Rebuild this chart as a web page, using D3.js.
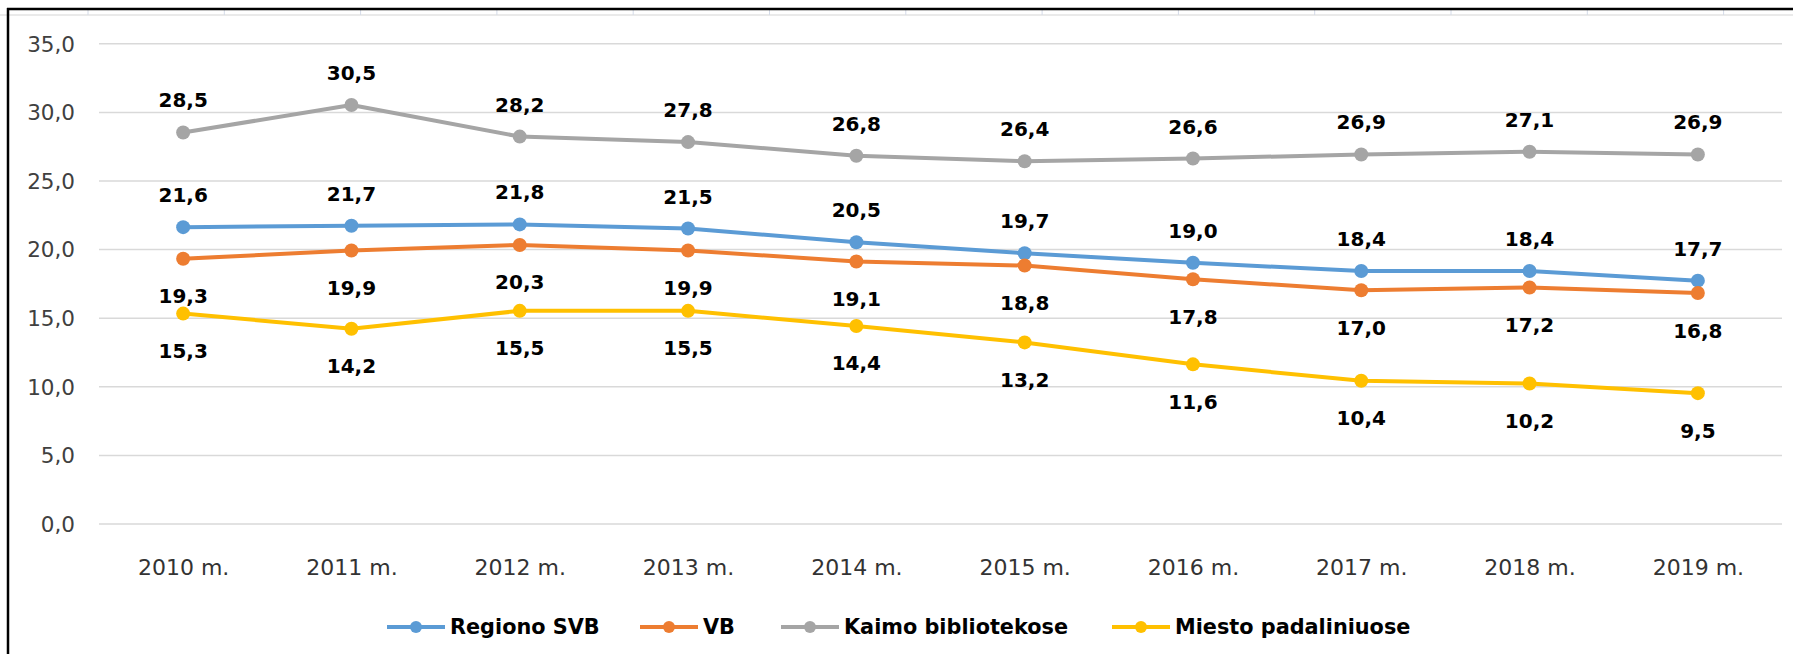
<!DOCTYPE html>
<html>
<head>
<meta charset="utf-8">
<script src="https://cdn.jsdelivr.net/npm/d3@7"></script>
<style>
  html, body { margin: 0; padding: 0; background: #fff; }
  svg { display: block; }
</style>
</head>
<body>
<svg id="chart" width="1793" height="654"></svg>
<script>
const categories = ["2010 m.", "2011 m.", "2012 m.", "2013 m.", "2014 m.", "2015 m.", "2016 m.", "2017 m.", "2018 m.", "2019 m."];
const seriesNames = ["Regiono SVB", "VB", "Kaimo bibliotekose", "Miesto padaliniuose"];
const regionoSVB = [21.6, 21.7, 21.8, 21.5, 20.5, 19.7, 19.0, 18.4, 18.4, 17.7];
const vb = [19.3, 19.9, 20.3, 19.9, 19.1, 18.8, 17.8, 17.0, 17.2, 16.8];
const kaimo = [28.5, 30.5, 28.2, 27.8, 26.8, 26.4, 26.6, 26.9, 27.1, 26.9];
const miesto = [15.3, 14.2, 15.5, 15.5, 14.4, 13.2, 11.6, 10.4, 10.2, 9.5];
const yTicks = [0, 5, 10, 15, 20, 25, 30, 35];
const colors = ["#5B9BD5", "#ED7D31", "#A5A5A5", "#FFC000"];
const labelPos = ["above", "below", "above", "below"];

const series = [regionoSVB, vb, kaimo, miesto].map((vals, i) => ({
  name: seriesNames[i], values: vals, color: colors[i], pos: labelPos[i]
}));

const svg = d3.select("#chart");
const W = 1793, H = 654;
const plotLeft = 99, plotRight = 1782, plotTop = 43.3, plotBottom = 523.5;
const fmt = v => d3.format(".1f")(v).replace(".", ",");

// spreadsheet frame decoration
const deco = svg.append("g");
deco.append("line").attr("x1", 0).attr("x2", W).attr("y1", 15).attr("y2", 15)
  .attr("stroke", "#e3e3e3").attr("stroke-width", 1.5);
d3.range(88, W, 136.3).forEach(x => {
  deco.append("line").attr("x1", x).attr("x2", x).attr("y1", 10).attr("y2", 15)
    .attr("stroke", "#d4dbe8").attr("stroke-width", 1);
});
deco.append("line").attr("x1", 7).attr("x2", W).attr("y1", 9).attr("y2", 9)
  .attr("stroke", "#000").attr("stroke-width", 2.5);
deco.append("line").attr("x1", 8).attr("x2", 8).attr("y1", 8).attr("y2", H)
  .attr("stroke", "#000").attr("stroke-width", 2.5);

const x = d3.scalePoint().domain(categories).range([plotLeft, plotRight]).padding(0.5);
const y = d3.scaleLinear().domain([0, 35]).range([plotBottom, plotTop]);

// gridlines + y labels
const yAxis = d3.axisLeft(y).tickValues(yTicks).tickSize(-(plotRight - plotLeft)).tickPadding(24).tickFormat(fmt);
const gy = svg.append("g").attr("transform", `translate(${plotLeft},0)`).call(yAxis);
gy.select(".domain").remove();
gy.selectAll(".tick line").attr("stroke", "#d9d9d9").attr("stroke-width", 1.5);
gy.selectAll(".tick text").attr("font-family", "DejaVu Sans").attr("font-size", 21.5)
  .attr("fill", "#404040").attr("dy", "0.36em");

const xAxis = d3.axisBottom(x).tickSize(0).tickPadding(0);
const gx = svg.append("g").attr("transform", `translate(0,${plotBottom})`).call(xAxis);
gx.select(".domain").remove();
gx.selectAll(".tick text").attr("font-family", "DejaVu Sans").attr("font-size", 22)
  .attr("fill", "#333").attr("dy", null).attr("y", 51);

const line = d3.line().x((d, i) => x(categories[i])).y(d => y(d));

series.forEach(s => {
  const g = svg.append("g");
  g.append("path").datum(s.values).attr("d", line).attr("fill", "none")
    .attr("stroke", s.color).attr("stroke-width", 4).attr("stroke-linejoin", "round");
  g.selectAll("circle").data(s.values).join("circle")
    .attr("cx", (d, i) => x(categories[i])).attr("cy", d => y(d)).attr("r", 7)
    .attr("fill", s.color);
});

series.forEach(s => {
  svg.append("g").selectAll("text").data(s.values).join("text")
    .attr("x", (d, i) => x(categories[i]))
    .attr("y", d => s.pos === "above" ? y(d) - 25 : y(d) + 44.5)
    .attr("text-anchor", "middle")
    .attr("font-family", "DejaVu Sans").attr("font-weight", "bold").attr("font-size", 20)
    .attr("fill", "#000")
    .text(d => fmt(d));
});

// legend
const legendX = [387, 640, 781, 1112];
const ly = 627;
const legend = svg.append("g");
series.forEach((s, i) => {
  const lx = legendX[i];
  const item = legend.append("g");
  item.append("line").attr("x1", lx).attr("x2", lx + 58).attr("y1", ly).attr("y2", ly)
    .attr("stroke", s.color).attr("stroke-width", 4);
  item.append("circle").attr("cx", lx + 29).attr("cy", ly).attr("r", 6).attr("fill", s.color);
  item.append("text").attr("x", lx + 63).attr("y", ly).attr("dy", "0.36em")
    .attr("font-family", "DejaVu Sans").attr("font-weight", "bold").attr("font-size", 20.8)
    .attr("fill", "#000").text(s.name);
});
</script>
</body>
</html>
